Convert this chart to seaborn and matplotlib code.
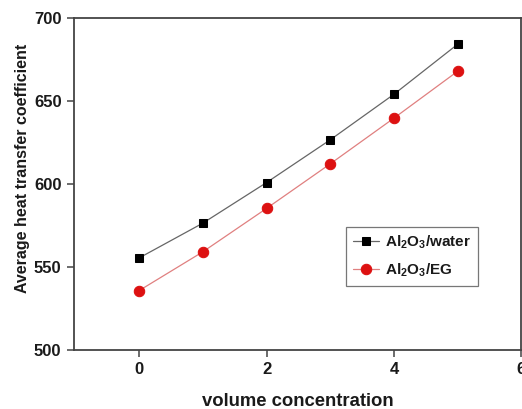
import matplotlib
matplotlib.use("Agg")
import matplotlib.pyplot as plt
import seaborn as sns
import pandas as pd

concentration = [0, 1, 2, 3, 4, 5]
water_htc = [555.5, 576.5, 601.0, 626.8, 654.3, 684.5]
eg_htc = [535.8, 559.2, 585.4, 612.3, 639.9, 668.2]
series_names = [r"Al$_2$O$_3$/water", r"Al$_2$O$_3$/EG"]
x_ticks = [0, 2, 4, 6]
y_ticks = [500, 550, 600, 650, 700]

sns.set_theme(style="ticks")
plt.rcParams["font.family"] = ["Liberation Sans", "DejaVu Sans"]
plt.rcParams["font.weight"] = "bold"
plt.rcParams["text.color"] = "#1a1a1a"
plt.rcParams["axes.labelcolor"] = "#1a1a1a"
plt.rcParams["xtick.color"] = "#1a1a1a"
plt.rcParams["ytick.color"] = "#1a1a1a"
plt.rcParams["mathtext.fontset"] = "custom"
plt.rcParams["mathtext.rm"] = "Liberation Sans:bold"
plt.rcParams["mathtext.it"] = "Liberation Sans:bold"
plt.rcParams["mathtext.bf"] = "Liberation Sans:bold"
plt.rcParams["mathtext.default"] = "rm"

fig = plt.figure(figsize=(5.22, 4.09), dpi=100)
ax = fig.add_axes([0.1418, 0.1443, 0.8572, 0.8105])

df_w = pd.DataFrame({"x": concentration, "y": water_htc})
df_e = pd.DataFrame({"x": concentration, "y": eg_htc})

sns.lineplot(data=df_w, x="x", y="y", ax=ax, color="#666666", lw=0.9,
             marker="s", markersize=6, markerfacecolor="black",
             markeredgecolor="black", label=series_names[0])
sns.lineplot(data=df_e, x="x", y="y", ax=ax, color="#e08080", lw=0.9,
             marker="o", markersize=7.5, markerfacecolor="#dd1111",
             markeredgecolor="#dd1111", label=series_names[1])

ax.set_xlim(-1.02, 6.0)
ax.set_ylim(500, 700)
ax.set_xticks(x_ticks)
ax.set_yticks(y_ticks)
ax.tick_params(axis="both", direction="out", length=5, width=1.1,
               color="#444444", labelsize=12, pad=4, labelcolor="#1a1a1a")
for lab in ax.get_xticklabels() + ax.get_yticklabels():
    lab.set_fontweight("bold")
for sp in ax.spines.values():
    sp.set_visible(True)
    sp.set_color("#444444")
    sp.set_linewidth(1.3)

ax.set_xlabel("volume concentration", fontsize=13.3, fontweight="bold", labelpad=11)
ax.set_ylabel("Average heat transfer coefficient", fontsize=11.5, fontweight="bold")
ax.yaxis.set_label_coords(-0.099, 0.547)

leg = ax.legend(loc="upper left", bbox_to_anchor=(0.59, 0.395), frameon=True,
                fancybox=False, edgecolor="#555555", fontsize=11,
                handlelength=1.7, borderpad=0.45, labelspacing=0.7,
                handletextpad=0.45, borderaxespad=0.5)
leg.get_frame().set_linewidth(0.9)

fig.savefig("out.png", dpi=100)
